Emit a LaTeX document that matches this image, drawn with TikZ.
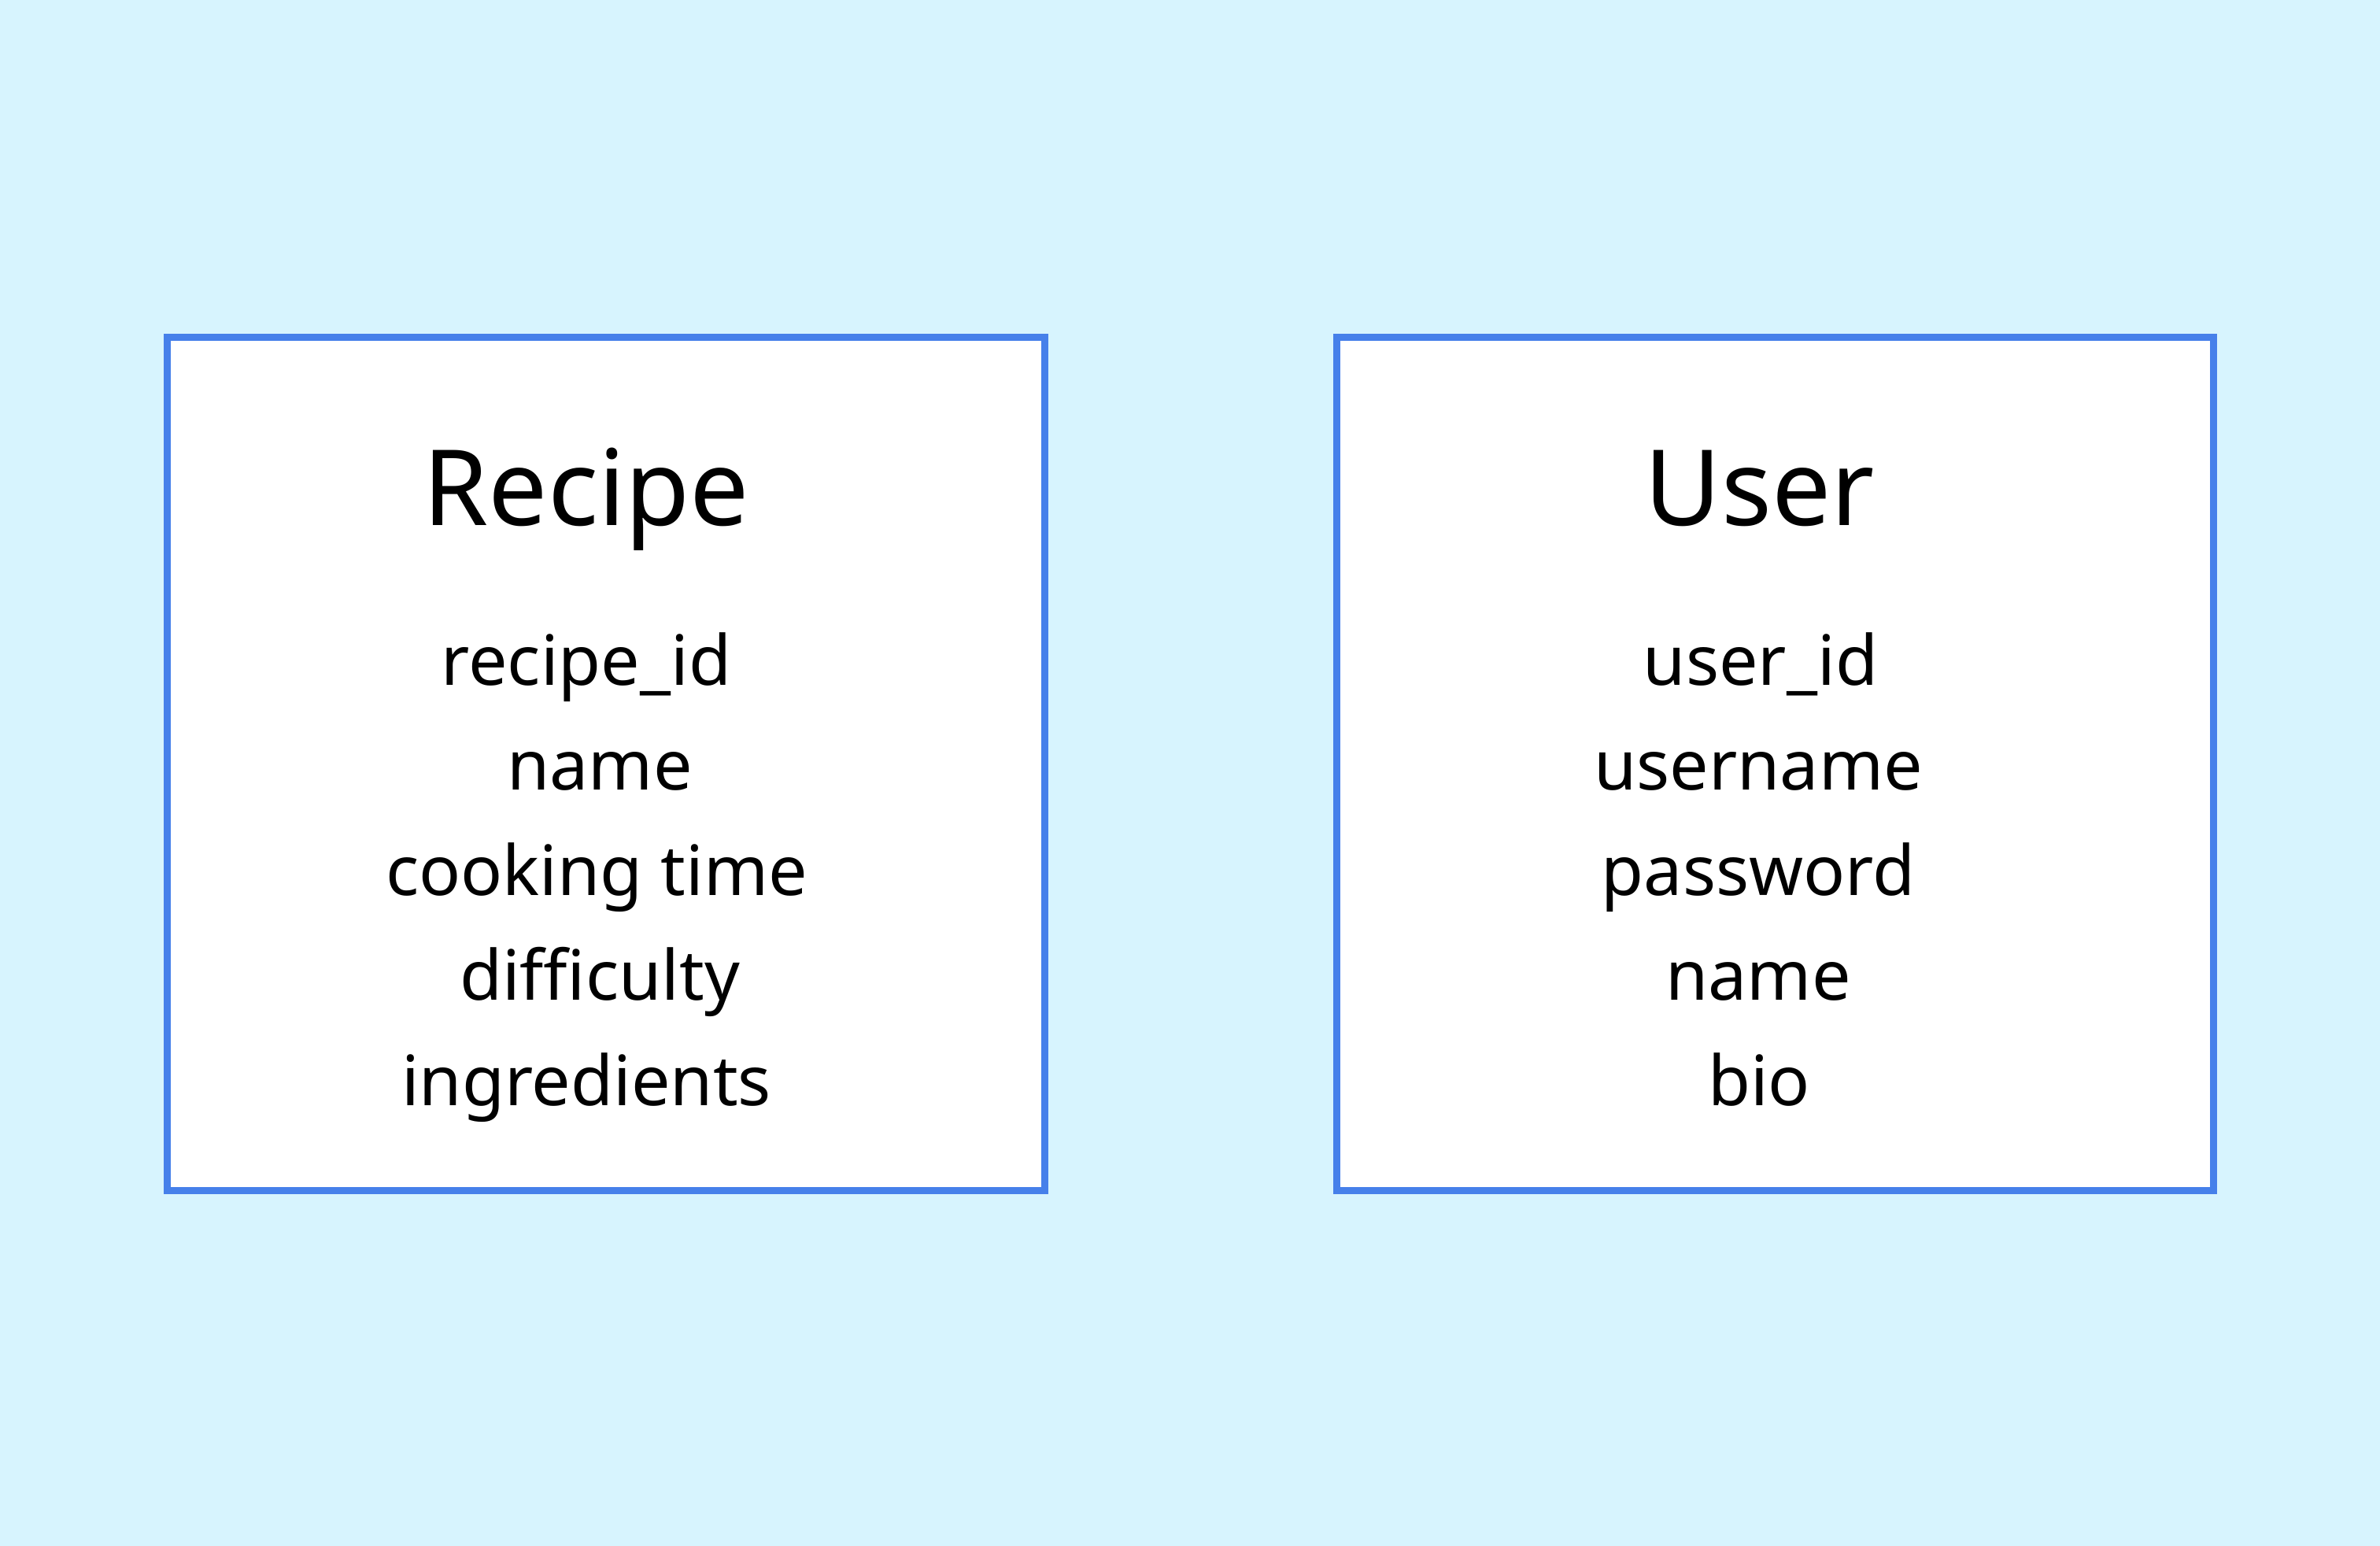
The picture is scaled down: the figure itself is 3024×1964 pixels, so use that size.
\documentclass[tikz,border=0pt]{standalone}
\usepackage{fontspec}
\setmainfont{Noto Sans}
\usepackage{tikz}
\definecolor{skybg}{HTML}{D7F4FE}
\definecolor{tableblue}{HTML}{4680EA}
\tikzset{
  tablebox/.style  = {draw=tableblue,fill=white,line width=2.56pt,inner sep=0pt,
                      minimum width=11.14cm,minimum height=10.84cm},
  tabletitle/.style = {anchor=base,font=\fontsize{38}{44}\selectfont},
  fieldtext/.style  = {anchor=base,font=\fontsize{25}{30}\selectfont}
}
\begin{document}
\begin{tikzpicture}[x=0.01cm,y=-0.01cm]
  \fill[skybg] (0,0) rectangle (3024,1964);
  \useasboundingbox (0,0) rectangle (3024,1964);
  % the two tables
  \node[tablebox] (recipe) at (770,970.5) {};
  \node[tablebox] (user) at (2255.5,970.5) {};
  \node[tabletitle] (recipetitle) at (745,667) {Recipe};
  \node[tabletitle] (usertitle) at (2236,667) {User};
  % fields
  \node[fieldtext] (rid)   at (745,870) {recipe\_id};
  \node[fieldtext] (rname) at (762,1003.5) {name};
  \node[fieldtext] (rtime) at (758,1137) {cooking time};
  \node[fieldtext] (rdiff) at (762,1270.5) {difficulty};
  \node[fieldtext] (ring)  at (745,1404) {ingredients};
  \node[fieldtext] (uid)   at (2237,870) {user\_id};
  \node[fieldtext] (uuser) at (2234,1003.5) {username};
  \node[fieldtext] (upass) at (2234,1137) {password};
  \node[fieldtext] (uname) at (2234,1270.5) {name};
  \node[fieldtext] (ubio)  at (2235,1404) {bio};
\end{tikzpicture}
\end{document}
